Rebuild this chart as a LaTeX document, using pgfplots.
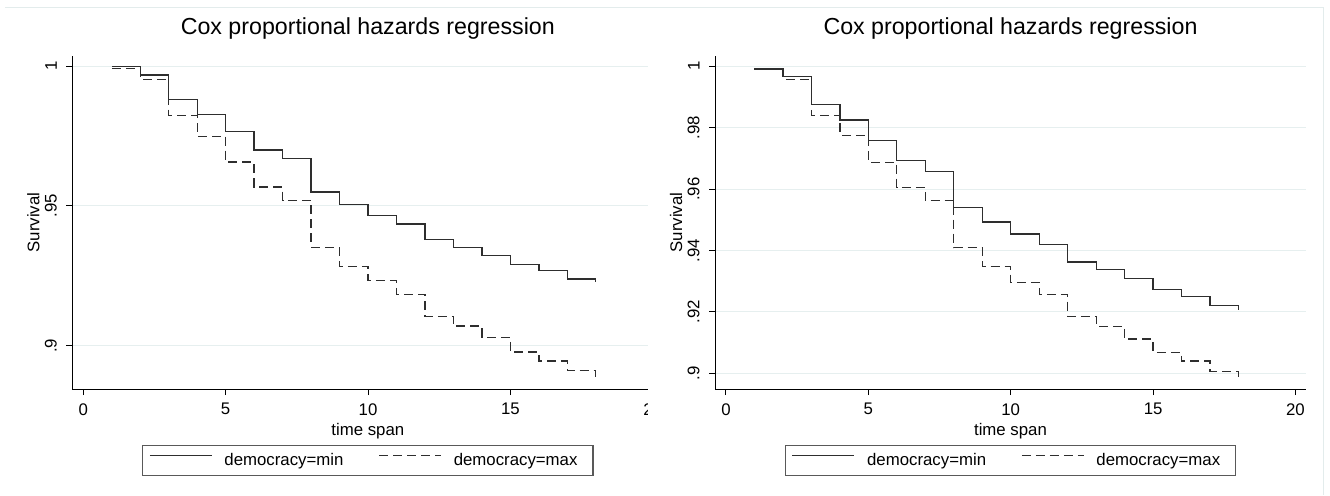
\documentclass[border=0pt]{standalone}
\usepackage{fontspec}
\setmainfont{Liberation Sans}
\usepackage{pgfplots}
\pgfplotsset{compat=1.18}
\definecolor{gridc}{HTML}{E6EFEF}
\definecolor{framec}{HTML}{E3ECEC}
\definecolor{linec}{HTML}{2E2E2E}

\pgfplotsset{
 coxstyle/.style={
  scale only axis, width=295.5pt, height=166.5pt,
  xmin=-0.386, xmax=20.37,
  axis x line*=bottom, axis y line*=left,
  axis line style={-, line width=0.5pt, black},
  xtick={0,5,10,15,20},
  tick align=outside, major tick length=3pt, tick pos=left,
  every tick/.style={black, line width=0.5pt},
  ymajorgrids, grid style={gridc, line width=0.5pt},
  /pgf/number format/assume math mode=true,
  tick label style={font=\fontsize{8.4}{10}\selectfont, black},
  xticklabel style={anchor=north, inner sep=0pt},
  xticklabel shift=4pt,
  yticklabel style={rotate=90, anchor=south, inner sep=0pt},
  yticklabel shift=4.5pt,
  label style={font=\fontsize{8.4}{10}\selectfont},
  xlabel={time span},
  xlabel style={at={(axis description cs:0.5,-0.1411)}, anchor=base, inner sep=0pt},
  ylabel={Survival},
  ylabel style={at={(axis description cs:-0.0548,0.5)}, anchor=south, inner sep=0pt},
  title={Cox proportional hazards regression},
  title style={at={(axis description cs:0.5,1)}, anchor=base, yshift=4.65pt, inner sep=0pt, font=\fontsize{11.6}{14}\selectfont},
  legend columns=2,
  legend style={at={(axis description cs:0.5,-0.1682)}, anchor=north,
    draw=black!65, line width=0.6pt, inner xsep=3.3pt, inner ysep=3.6pt,
    font=\fontsize{8.4}{10}\selectfont,
    nodes={inner sep=0pt, text height=6.2pt, text depth=1.6pt},
    /tikz/every even column/.append style={column sep=17.5pt},
    /tikz/every odd column/.append style={column sep=6pt}},
  legend image code/.code={\draw[#1] (0pt,2.6pt) -- (31pt,2.6pt);},
 },
 minline/.style={const plot, linec, line width=0.65pt},
 maxline/.style={const plot, linec, line width=0.65pt, dash pattern=on 4.5pt off 2.5pt},
}

\begin{document}
\begin{tikzpicture}
\path[use as bounding box] (0,0) rectangle (665pt,247.5pt);

\begin{axis}[coxstyle,
  at={(36.15pt,53pt)}, anchor=south west,
  ymin=0.8845, ymax=1.0036,
  ytick={0.9,0.95,1}, yticklabels={.9,.95,1}]
\addplot[minline] coordinates {
(1,0.9998)(2,0.9968)(3,0.9880)(4,0.9828)(5,0.9765)(6,0.9700)(7,0.9670)(8,0.9550)(9,0.9505)
(10,0.9466)(11,0.9435)(12,0.9379)(13,0.9350)(14,0.9322)(15,0.9291)(16,0.9268)(17,0.9238)(18,0.9226)};
\addlegendentry{democracy=min}
\addplot[maxline] coordinates {
(1,0.9991)(2,0.9953)(3,0.9824)(4,0.9749)(5,0.9657)(6,0.9568)(7,0.9519)(8,0.9352)(9,0.9283)
(10,0.9233)(11,0.9184)(12,0.9104)(13,0.9070)(14,0.9030)(15,0.8977)(16,0.8945)(17,0.8910)(18,0.8889)};
\addlegendentry{democracy=max\hspace*{4.5pt}}
\end{axis}

\fill[white] (324pt,0pt) rectangle (357pt,247.5pt);

\begin{axis}[coxstyle,
  at={(357.5pt,53pt)}, anchor=south west,
  ymin=0.8949, ymax=1.0033,
  ytick={0.9,0.92,0.94,0.96,0.98,1}, yticklabels={.9,.92,.94,.96,.98,1}]
\addplot[minline] coordinates {
(1,0.9991)(2,0.9966)(3,0.9876)(4,0.9825)(5,0.9757)(6,0.9692)(7,0.9658)(8,0.9540)(9,0.9493)
(10,0.9454)(11,0.9420)(12,0.9362)(13,0.9337)(14,0.9308)(15,0.9273)(16,0.9250)(17,0.9221)(18,0.9205)};
\addlegendentry{democracy=min}
\addplot[maxline] coordinates {
(1,0.9991)(2,0.9957)(3,0.9840)(4,0.9775)(5,0.9687)(6,0.9605)(7,0.9562)(8,0.9409)(9,0.9347)
(10,0.9296)(11,0.9257)(12,0.9185)(13,0.9153)(14,0.9112)(15,0.9068)(16,0.9040)(17,0.9007)(18,0.8987)};
\addlegendentry{democracy=max\hspace*{4.5pt}}
\end{axis}

\draw[framec, line width=0.5pt] (2.5pt,244pt) -- (661.5pt,244pt) -- (661.5pt,0pt);
\end{tikzpicture}
\end{document}
